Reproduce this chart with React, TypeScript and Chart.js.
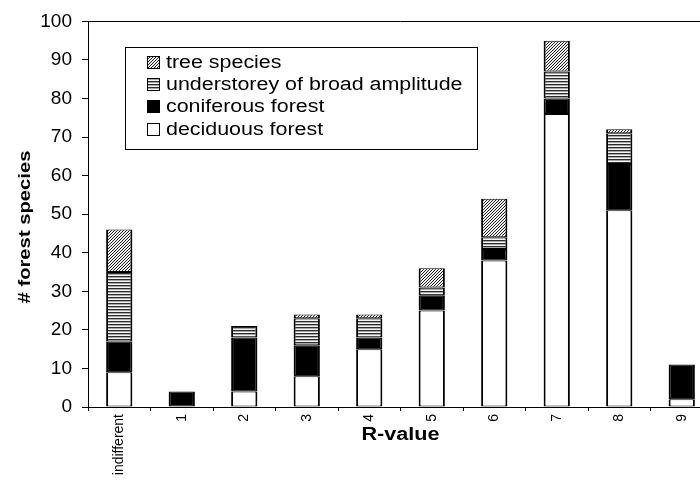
import { useEffect, useRef } from "react";
import { Chart, registerables } from "chart.js";

Chart.register(...registerables);

// R-value classes on the x axis
const categories = ["indifferent", "1", "2", "3", "4", "5", "6", "7", "8", "9"];

// Number of forest species per R-value class, by group (stacked bottom to top)
const deciduousForest = [9, 0, 4, 8, 15, 25, 38, 76, 51, 2];
const coniferousForest = [8, 4, 14, 8, 3, 4, 3, 4, 12, 9];
const understorey = [18, 0, 3, 7, 5, 2, 3, 7, 8, 0];
const treeSpecies = [11, 0, 0, 1, 1, 5, 10, 8, 1, 0];

const yTickValues = [0, 10, 20, 30, 40, 50, 60, 70, 80, 90, 100];

const FONT = "'Liberation Sans', Arial, Helvetica, sans-serif";
const TEXT_STRETCH = 1.19;

function makeTile(w: number, h: number, paint: (g: CanvasRenderingContext2D) => void) {
  const c = document.createElement("canvas");
  c.width = w;
  c.height = h;
  paint(c.getContext("2d") as CanvasRenderingContext2D);
  return c;
}

// fine "/" diagonal hatch
function hatchPattern(ctx: CanvasRenderingContext2D) {
  const tile = makeTile(3, 3, (g) => {
    g.fillStyle = "#f2f2f2";
    g.fillRect(0, 0, 3, 3);
    g.fillStyle = "#1e1e1e";
    for (let x = 0; x < 3; x++) g.fillRect(x, 2 - x, 1, 1);
  });
  return ctx.createPattern(tile, "repeat") as CanvasPattern;
}

// horizontal line fill
function stripePattern(ctx: CanvasRenderingContext2D) {
  const tile = makeTile(2, 3, (g) => {
    g.fillStyle = "#2c2c2c";
    g.fillRect(0, 0, 2, 1);
    g.fillStyle = "#a8a8a8";
    g.fillRect(0, 1, 2, 1);
    g.fillStyle = "#f6f6f6";
    g.fillRect(0, 2, 2, 1);
  });
  return ctx.createPattern(tile, "repeat") as CanvasPattern;
}

function stretchedText(
  ctx: CanvasRenderingContext2D,
  text: string,
  x: number,
  y: number,
  sx: number,
  rotate = 0
) {
  ctx.save();
  ctx.translate(x, y);
  if (rotate) ctx.rotate(rotate);
  ctx.scale(sx, 1);
  ctx.fillText(text, 0, 0);
  ctx.restore();
}

// Plot frame top line, axis titles and the boxed legend
const decorPlugin = {
  id: "decor",
  afterDraw(chart: any) {
    const ctx: CanvasRenderingContext2D = chart.ctx;
    const area = chart.chartArea;
    ctx.save();

    // frame line along the top of the plot area
    ctx.strokeStyle = "#000";
    ctx.lineWidth = 1;
    ctx.beginPath();
    ctx.moveTo(area.left, Math.round(area.top) + 0.5);
    ctx.lineTo(area.right, Math.round(area.top) + 0.5);
    ctx.lineTo(area.right, area.bottom);
    ctx.stroke();

    // axis titles
    ctx.fillStyle = "#000";
    ctx.textAlign = "center";
    ctx.textBaseline = "middle";
    ctx.font = `bold 17px ${FONT}`;
    stretchedText(ctx, "# forest species", 25, 227, TEXT_STRETCH, -Math.PI / 2);
    ctx.textBaseline = "alphabetic";
    ctx.font = `bold 18px ${FONT}`;
    stretchedText(ctx, "R-value", (area.left + area.right) / 2, 440, 1.2);

    // legend box
    const bx = 125.5, by = 47.5, bw = 352, bh = 102;
    ctx.fillStyle = "#fff";
    ctx.fillRect(bx, by, bw, bh);
    ctx.strokeStyle = "#000";
    ctx.strokeRect(bx, by, bw, bh);

    const items = [...chart.data.datasets].reverse();
    ctx.font = `18px ${FONT}`;
    ctx.textAlign = "left";
    ctx.textBaseline = "middle";
    items.forEach((ds: any, i: number) => {
      const cy = 62 + i * 22.2;
      const sx = 147.5, sy = Math.round(cy - 6) + 0.5, s = 12;
      ctx.fillStyle = ds.backgroundColor;
      ctx.fillRect(sx, sy, s, s);
      ctx.strokeStyle = "#000";
      ctx.lineWidth = 1;
      ctx.strokeRect(sx, sy, s, s);
      ctx.fillStyle = "#000";
      stretchedText(ctx, ds.label, 166, cy + 1, TEXT_STRETCH);
    });
    ctx.restore();
  },
};

export default function App() {
  const ref = useRef<HTMLCanvasElement>(null);

  useEffect(() => {
    const canvas = ref.current as HTMLCanvasElement;
    const ctx = canvas.getContext("2d") as CanvasRenderingContext2D;
    const treeFill = hatchPattern(ctx);
    const underFill = stripePattern(ctx);

    const barStyle = {
      borderColor: "#000000",
      borderWidth: { left: 2, right: 2, top: 1, bottom: 1 },
      borderSkipped: false,
      barPercentage: 0.42,
      categoryPercentage: 1,
    };

    const chart = new Chart(canvas, {
      type: "bar",
      data: {
        labels: categories,
        datasets: [
          { label: "deciduous forest", data: deciduousForest, backgroundColor: "#ffffff", ...barStyle },
          { label: "coniferous forest", data: coniferousForest, backgroundColor: "#000000", ...barStyle },
          { label: "understorey of broad amplitude", data: understorey, backgroundColor: underFill, ...barStyle },
          { label: "tree species", data: treeSpecies, backgroundColor: treeFill, ...barStyle },
        ] as any,
      },
      options: {
        responsive: false,
        animation: false,
        layout: { padding: { top: 18, right: 7, bottom: 0, left: 0 } },
        plugins: {
          legend: { display: false },
          tooltip: { enabled: false },
        },
        scales: {
          x: {
            stacked: true,
            grid: { display: true, drawOnChartArea: false, offset: true, tickLength: 4, color: "#000" },
            border: { display: true, color: "#000", width: 1 },
            ticks: {
              autoSkip: false,
              minRotation: 90,
              maxRotation: 90,
              padding: 3,
              color: "#000",
              font: { family: FONT, size: 14 },
            },
            afterFit: (s: any) => {
              s.height = 74;
            },
          },
          y: {
            stacked: true,
            min: 0,
            max: 100,
            grid: { display: true, drawOnChartArea: false, tickLength: 6, color: "#000" },
            border: { display: true, color: "#000", width: 1 },
            ticks: {
              padding: 10,
              color: "#000",
              font: { family: FONT, size: 19 },
            },
            afterBuildTicks: (s: any) => {
              s.ticks = yTickValues.map((v) => ({ value: v }));
            },
            afterFit: (s: any) => {
              s.width = 88;
            },
          },
        },
      } as any,
      plugins: [decorPlugin],
    });

    return () => chart.destroy();
  }, []);

  return (
    <div
      style={{
        position: "fixed",
        left: 0,
        top: 0,
        width: 700,
        height: 481,
        overflow: "hidden",
        background: "#fff",
      }}
    >
      <canvas ref={ref} width={720} height={481} style={{ display: "block", width: 720, height: 481 }} />
    </div>
  );
}
